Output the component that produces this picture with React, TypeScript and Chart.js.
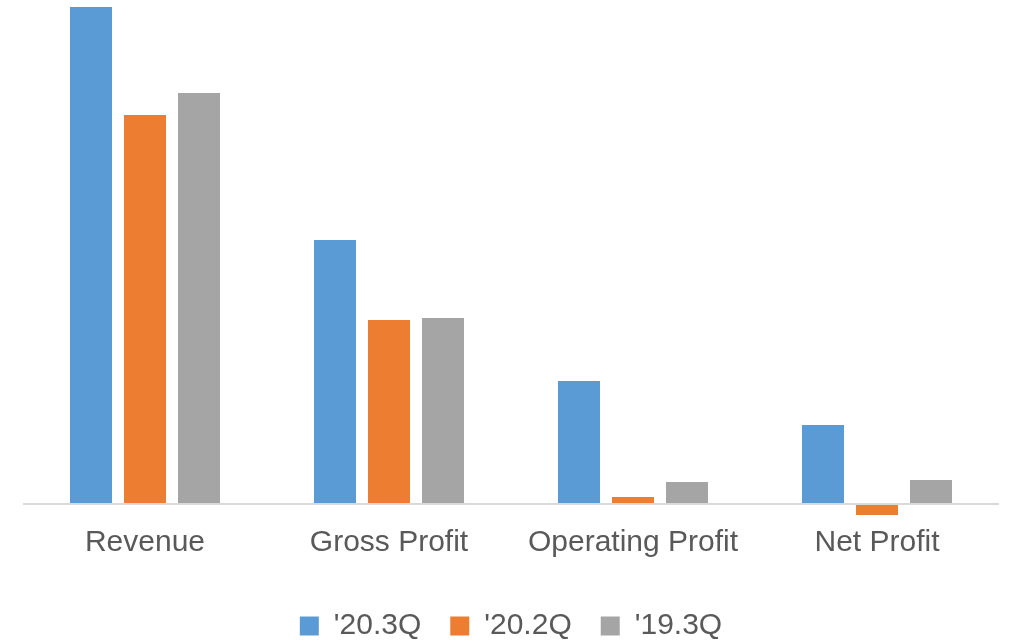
import React, { useEffect, useRef } from "react";
import { Chart, registerables } from "chart.js";

Chart.register(...registerables);

const categories = ["Revenue", "Gross Profit", "Operating Profit", "Net Profit"];
const seriesLabels = ["'20.3Q", "'20.2Q", "'19.3Q"];
const q203 = [99.4, 52.8, 24.6, 15.8];
const q202 = [77.8, 36.8, 1.4, -2.2];
const q193 = [82.2, 37.2, 4.4, 4.8];
const colors = ["#5B9BD5", "#ED7D31", "#A5A5A5"];
const yMin = -2.4;
const yMax = 99.4;

const legendShift = {
  id: "legendShift",
  afterLayout(chart: any) {
    const lg = chart.legend;
    if (lg) {
      lg.top += 20;
      lg.bottom += 20;
    }
  },
};

export default function App() {
  const ref = useRef<HTMLCanvasElement | null>(null);
  useEffect(() => {
    if (!ref.current) return;
    const font = "'Liberation Sans', Arial, sans-serif";
    const chart = new Chart(ref.current, {
      type: "bar",
      data: {
        labels: categories,
        datasets: [q203, q202, q193].map((d, i) => ({
          label: seriesLabels[i],
          data: d,
          backgroundColor: colors[i],
          borderWidth: 0,
          categoryPercentage: 0.664,
          barPercentage: 0.778,
        })),
      },
      plugins: [legendShift],
      options: {
        animation: false,
        responsive: false,
        maintainAspectRatio: false,
        layout: { padding: { left: 23, right: 11, top: 7, bottom: 9 } },
        plugins: {
          tooltip: { enabled: false },
          legend: {
            position: "bottom",
            labels: {
              boxWidth: 19,
              boxHeight: 19,
              padding: 29,
              color: "#595959",
              font: { family: font, size: 30 },
            },
          },
        },
        scales: {
          x: {
            grid: { display: false },
            border: { display: false },
            ticks: { color: "#595959", font: { family: font, size: 30 }, padding: 1 },
          },
          y: {
            min: yMin,
            max: yMax,
            afterBuildTicks: (scale: any) => {
              scale.ticks = [{ value: yMin }, { value: 0 }, { value: yMax }];
            },
            ticks: { display: false },
            border: { display: false },
            grid: {
              z: 1,
              drawTicks: false,
              lineWidth: 2,
              color: (ctx: any) => (ctx.tick && ctx.tick.value === 0 ? "#D9D9D9" : "rgba(0,0,0,0)"),
            },
          },
        },
      },
    });
    return () => chart.destroy();
  }, []);
  return (
    <div style={{ position: "fixed", left: 0, top: 0, width: 1010, height: 640, background: "#fff" }}>
      <canvas ref={ref} width={1010} height={640} />
    </div>
  );
}
